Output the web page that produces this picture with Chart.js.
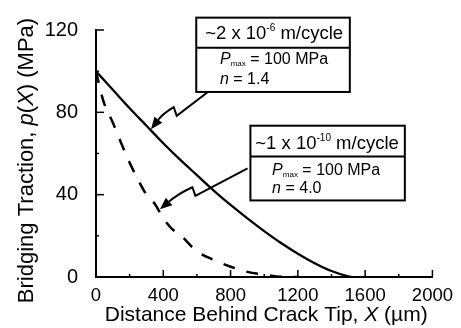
<!DOCTYPE html>
<html>
<head>
<meta charset="utf-8">
<script src="https://cdn.jsdelivr.net/npm/chart.js@4"></script>
<style>
  body { margin: 0; background: #fff; }
  canvas { display: block; background: #fff; }
</style>
</head>
<body>
<canvas id="chart" width="461" height="328"></canvas>
<script>
// --- DATA ---
const solidX  = [0, 100, 200, 300, 400, 500, 600, 700, 800, 900, 1000, 1100, 1200, 1300, 1400, 1500, 1520];
const solidY  = [100, 91, 82, 73.5, 65, 57, 49.5, 42, 35, 28.5, 22.3, 16.5, 11.3, 6.7, 2.9, 0.3, 0];
const dashedX = [0, 35, 50, 100, 150, 200, 250, 300, 350, 400, 450, 500, 600, 700, 800, 900, 1000, 1100, 1200];
const dashedY = [100, 88, 84, 75, 65, 55.5, 47.3, 40, 35.5, 28.5, 23.5, 20.5, 12.5, 8.3, 5, 2.5, 1.2, 0.1, 0];

const xTickLabels = [0, 400, 800, 1200, 1600, 2000];
const yTickLabels = [0, 40, 80, 120];

const FONT = "'Liberation Sans', Arial, sans-serif";

// annotation boxes, placed in data units
const boxes = [
    { x0: 596, x1: 1509, yTop: 126, yDiv: 111.4, yBot: 89.9,
      head: { x: 649, y: 115.4, lead: '~2 x 10', exp: '-6' },
      p: { x: 737, y: 103.3 }, n: { x: 737, y: 94, text: ' = 1.4' } },
    { x0: 918, x1: 1836, yTop: 73.5, yDiv: 58.6, yBot: 37.2,
      head: { x: 947, y: 62.1, lead: '~1 x 10', exp: '-10' },
      p: { x: 1047, y: 49.6 }, n: { x: 1047, y: 40.8, text: ' = 4.0' } }
];

// zig-zag arrows: start, kink A, kink B, control, tip (data units)
const arrows = [
    { start: [667, 90], a: [480, 78.3], b: [462, 82.5], ctrl: [400, 79.5], tip: [327, 71.8] },
    { start: [901, 52.8], a: [591, 39.4], b: [573, 43.6], ctrl: [490, 40.5], tip: [380, 32.9] }
];

function drawRich(ctx, segs, x, y, align) {
    let total = 0;
    segs.forEach(s => { ctx.font = s.font; s.w = ctx.measureText(s.text).width; total += s.w; });
    let cx = align === 'center' ? x - total / 2 : x;
    ctx.textAlign = 'left';
    ctx.textBaseline = 'alphabetic';
    segs.forEach(s => {
        ctx.font = s.font;
        ctx.fillText(s.text, cx, y + (s.dy || 0));
        cx += s.w;
    });
}

const decor = {
    id: 'decor',
    afterDraw(chart) {
        const { ctx, chartArea, scales: { x, y } } = chart;
        const px = v => x.getPixelForValue(v);
        const py = v => y.getPixelForValue(v);
        ctx.save();
        ctx.strokeStyle = '#000';
        ctx.fillStyle = '#000';

        // inward tick marks
        ctx.lineWidth = 1.5;
        x.ticks.forEach(t => {
            const p = px(t.value);
            const len = xTickLabels.includes(t.value) ? 7 : 3;
            ctx.beginPath(); ctx.moveTo(p, chartArea.bottom); ctx.lineTo(p, chartArea.bottom - len); ctx.stroke();
        });
        y.ticks.forEach(t => {
            const p = py(t.value);
            const len = yTickLabels.includes(t.value) ? 8 : 3;
            ctx.beginPath(); ctx.moveTo(chartArea.left, p); ctx.lineTo(chartArea.left + len, p); ctx.stroke();
        });

        // axis titles
        const cxTitle = (chartArea.left + chartArea.right) / 2 + 2;
        drawRich(ctx, [
            { text: 'Distance Behind Crack Tip, ', font: `21px ${FONT}` },
            { text: 'X', font: `italic 21px ${FONT}` },
            { text: ' (\u00b5m)', font: `21px ${FONT}` }
        ], cxTitle, chartArea.bottom + 44, 'center');

        ctx.save();
        ctx.translate(33, (chartArea.top + chartArea.bottom) / 2 + 7);
        ctx.rotate(-Math.PI / 2);
        drawRich(ctx, [
            { text: 'Bridging Traction, ', font: `22px ${FONT}` },
            { text: 'p', font: `italic 22px ${FONT}` },
            { text: '(', font: `22px ${FONT}` },
            { text: 'X', font: `italic 22px ${FONT}` },
            { text: ') (MPa)', font: `22px ${FONT}` }
        ], 0, 0, 'center');
        ctx.restore();

        // annotation boxes
        ctx.lineWidth = 2;
        boxes.forEach(b => {
            const l = px(b.x0), r = px(b.x1), t = py(b.yTop), bt = py(b.yBot), d = py(b.yDiv);
            ctx.fillStyle = '#fff';
            ctx.fillRect(l, t, r - l, bt - t);
            ctx.strokeRect(l, t, r - l, bt - t);
            ctx.beginPath(); ctx.moveTo(l, d); ctx.lineTo(r, d); ctx.stroke();
            ctx.fillStyle = '#000';
            drawRich(ctx, [
                { text: b.head.lead, font: `18.5px ${FONT}` },
                { text: b.head.exp, font: `10px ${FONT}`, dy: -8 },
                { text: ' m/cycle', font: `18.5px ${FONT}` }
            ], px(b.head.x), py(b.head.y), 'left');
            drawRich(ctx, [
                { text: 'P', font: `italic 16px ${FONT}` },
                { text: 'max', font: `8px ${FONT}`, dy: 2 },
                { text: ' = 100 MPa', font: `16px ${FONT}` }
            ], px(b.p.x), py(b.p.y), 'left');
            drawRich(ctx, [
                { text: 'n', font: `italic 16px ${FONT}` },
                { text: b.n.text, font: `16px ${FONT}` }
            ], px(b.n.x), py(b.n.y), 'left');
        });

        // arrows
        arrows.forEach(a => {
            const P = p => [px(p[0]), py(p[1])];
            const s = P(a.start), k1 = P(a.a), k2 = P(a.b), c = P(a.ctrl), tp = P(a.tip);
            const ang = Math.atan2(tp[1] - c[1], tp[0] - c[0]);
            const headLen = 12, headW = 5;
            const base = [tp[0] - headLen * Math.cos(ang), tp[1] - headLen * Math.sin(ang)];
            ctx.lineWidth = 2;
            ctx.beginPath();
            ctx.moveTo(s[0], s[1]);
            ctx.lineTo(k1[0], k1[1]);
            ctx.lineTo(k2[0], k2[1]);
            ctx.quadraticCurveTo(c[0], c[1], base[0], base[1]);
            ctx.stroke();
            ctx.beginPath();
            ctx.moveTo(tp[0], tp[1]);
            ctx.lineTo(base[0] + headW * Math.sin(ang), base[1] - headW * Math.cos(ang));
            ctx.lineTo(base[0] - headW * Math.sin(ang), base[1] + headW * Math.cos(ang));
            ctx.closePath();
            ctx.fill();
        });
        ctx.restore();
    }
};

const toPoints = (xs, ys) => xs.map((v, i) => ({ x: v, y: ys[i] }));

new Chart(document.getElementById('chart'), {
    type: 'line',
    data: {
        datasets: [{
            data: toPoints(solidX, solidY),
            borderColor: '#000',
            borderWidth: 2.3,
            pointRadius: 0,
            cubicInterpolationMode: 'monotone',
            fill: false
        }, {
            data: toPoints(dashedX, dashedY),
            borderColor: '#000',
            borderWidth: 2.5,
            borderDash: [12, 12],
            pointRadius: 0,
            cubicInterpolationMode: 'monotone',
            fill: false
        }]
    },
    options: {
        responsive: false,
        animation: false,
        devicePixelRatio: 1,
        layout: { padding: { top: 18, right: 23, left: 0, bottom: 0 } },
        plugins: { legend: { display: false }, tooltip: { enabled: false } },
        scales: {
            x: {
                type: 'linear',
                min: 0, max: 2000,
                grid: { display: false, drawTicks: false },
                border: { display: true, color: '#000', width: 2 },
                ticks: {
                    stepSize: 200,
                    autoSkip: false,
                    maxRotation: 0,
                    padding: 8,
                    color: '#000',
                    font: { family: FONT, size: 18.5 },
                    callback: v => xTickLabels.includes(v) ? String(v) : ''
                },
                afterFit: s => { s.height = 51; }
            },
            y: {
                min: 0, max: 120,
                grid: { display: false, drawTicks: false },
                border: { display: true, color: '#000', width: 2 },
                ticks: {
                    stepSize: 20,
                    autoSkip: false,
                    padding: 18,
                    color: '#000',
                    font: { family: FONT, size: 20 },
                    callback: v => yTickLabels.includes(v) ? String(v) : ''
                },
                afterFit: s => { s.width = 96; }
            }
        }
    },
    plugins: [decor]
});
</script>
</body>
</html>
